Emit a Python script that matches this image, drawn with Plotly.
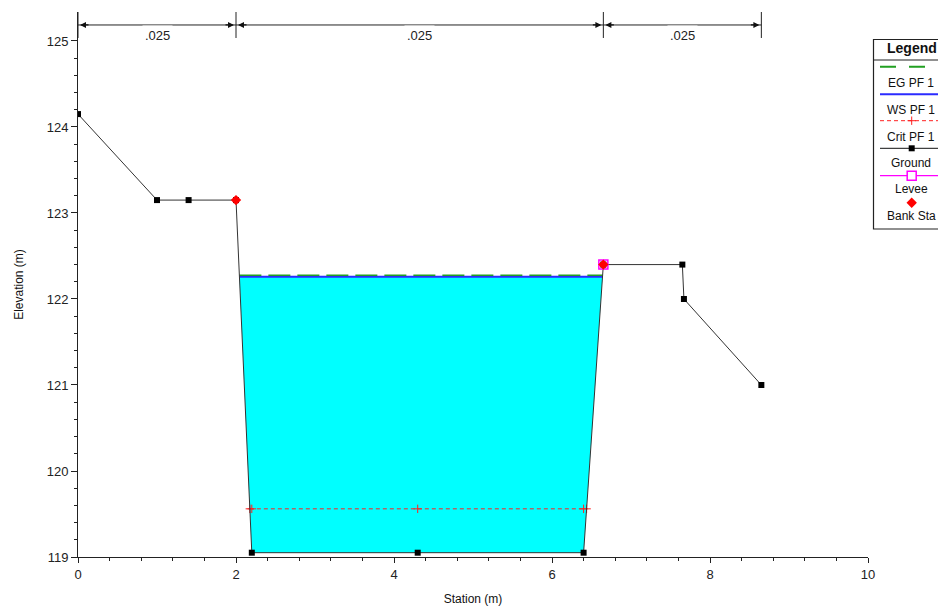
import numpy as np
import plotly.graph_objects as go

# ---------------- data ----------------
ground_sta = [0.0, 1.0, 1.4, 2.0, 2.2, 4.3, 6.4, 6.65, 7.65, 7.67, 8.65]
ground_elev = [124.15, 123.15, 123.15, 123.15, 119.05, 119.05, 119.05, 122.4, 122.4, 122.0, 121.0]
bank_sta = [2.0, 6.65]
levee_sta = [6.65]
ws_elev = 122.26
eg_elev = 122.275
crit_elev = 119.56
n_breaks = [0.0, 2.0, 6.65, 8.65]
n_values = [".025", ".025", ".025"]

FONT = "Liberation Sans, Arial, sans-serif"

gx = np.array(ground_sta)
gy = np.array(ground_elev)
ib_l = int(np.where(gx == bank_sta[0])[0][0])
ib_r = int(np.where(gx == bank_sta[1])[0][0])


def channel_hits(elev):
    """Stations where a horizontal level meets the ground inside the banks."""
    xl = np.interp(elev, gy[ib_l:ib_l + 2][::-1], gx[ib_l:ib_l + 2][::-1])
    xr = np.interp(elev, gy[ib_r - 1:ib_r + 1], gx[ib_r - 1:ib_r + 1])
    inner = [(x, y) for x, y in zip(gx, gy) if xl < x < xr and y < elev]
    return xl, xr, inner


def elev_at(sta):
    return float(np.interp(sta, gx, gy))


fig = go.Figure()

# water fill
xl, xr, inner = channel_hits(ws_elev)
px = [xl] + [p[0] for p in inner] + [xr]
py = [ws_elev] + [p[1] for p in inner] + [ws_elev]
fig.add_trace(go.Scatter(x=px, y=py, fill="toself", fillcolor="#00FFFF",
                         mode="lines", line=dict(width=0), hoverinfo="skip"))

# WS
fig.add_trace(go.Scatter(x=[xl, xr], y=[ws_elev, ws_elev], mode="lines",
                         line=dict(color="#2b2bff", width=2)))
# EG
exl, exr, _ = channel_hits(eg_elev)
fig.add_trace(go.Scatter(x=[exl, exr], y=[eg_elev, eg_elev], mode="lines",
                         line=dict(color="#22a022", width=1.5, dash="22px,7px")))
# Crit
cxl, cxr, cin = channel_hits(crit_elev)
cx = [cxl] + [p[0] for p in cin] + [cxr]
fig.add_trace(go.Scatter(x=cx, y=[crit_elev] * len(cx), mode="lines+markers",
                         line=dict(color="#ff2020", width=1, dash="4px,3px"),
                         marker=dict(symbol="cross-thin", size=6,
                                     line=dict(color="#ff2020", width=1))))
# Ground
fig.add_trace(go.Scatter(x=ground_sta, y=ground_elev, mode="lines+markers",
                         line=dict(color="#333333", width=1),
                         marker=dict(symbol="square", size=6, color="black")))
# Levee
fig.add_trace(go.Scatter(x=levee_sta, y=[elev_at(s) for s in levee_sta], mode="markers",
                         marker=dict(symbol="square-open", size=9, color="#ff00ff",
                                     line=dict(color="#ff00ff", width=1.5))))
# Bank stations
fig.add_trace(go.Scatter(x=bank_sta, y=[elev_at(s) for s in bank_sta], mode="markers",
                         marker=dict(symbol="diamond", size=8, color="#ff0000")))

# Manning's n markers at top
shapes = []
annotations = []
Y_LO, Y_HI, Y_ARR = 0.9523, 1.0, 0.9762
for s in n_breaks:
    shapes.append(dict(type="line", xref="x", yref="paper", x0=s, x1=s, y0=Y_LO, y1=Y_HI,
                       line=dict(color="#222222", width=1)))
for a, b, t in zip(n_breaks[:-1], n_breaks[1:], n_values):
    shapes.append(dict(type="line", xref="x", yref="paper", x0=a, x1=b, y0=Y_ARR, y1=Y_ARR,
                       line=dict(color="#222222", width=1)))
    annotations.append(dict(x=a, y=Y_ARR, xref="x", yref="paper", ax=12, ay=0, text="",
                            showarrow=True, arrowhead=2, arrowsize=1, arrowwidth=1.2,
                            arrowcolor="#111111", standoff=2))
    annotations.append(dict(x=b, y=Y_ARR, xref="x", yref="paper", ax=-12, ay=0, text="",
                            showarrow=True, arrowhead=2, arrowsize=1, arrowwidth=1.2,
                            arrowcolor="#111111", standoff=2))
    annotations.append(dict(x=(a + b) / 2, y=Y_ARR, xref="x", yref="paper", text=t,
                            showarrow=False, bgcolor="white", borderpad=2,
                            font=dict(family=FONT, size=13, color="#222222")))

# ---------------- custom legend (pixel-space helper axes) ----------------
LX0, LX1 = 880, 945
legend_rows = [
    ("EG PF 1", 66.7, 82.5),
    ("WS PF 1", 94.3, 110),
    ("Crit PF 1", 120.7, 136.7),
    ("Ground", 148.3, 162.7),
    ("Levee", 175.7, 189.3),
    ("Bank Sta", 202.7, 216),
]
MX = 911.7
fig.add_trace(go.Scatter(x=[LX0, LX1], y=[66.7, 66.7], xaxis="x2", yaxis="y2", mode="lines",
                         line=dict(color="#22a022", width=2, dash="16px,13px")))
fig.add_trace(go.Scatter(x=[LX0, LX1], y=[94.3, 94.3], xaxis="x2", yaxis="y2", mode="lines",
                         line=dict(color="#2b2bff", width=2)))
fig.add_trace(go.Scatter(x=[LX0, LX1], y=[120.7, 120.7], xaxis="x2", yaxis="y2", mode="lines",
                         line=dict(color="#ff2020", width=1, dash="4px,3px")))
fig.add_trace(go.Scatter(x=[MX], y=[120.7], xaxis="x2", yaxis="y2", mode="markers",
                         marker=dict(symbol="cross-thin", size=6, line=dict(color="#ff2020", width=1))))
fig.add_trace(go.Scatter(x=[LX0, LX1], y=[148.3, 148.3], xaxis="x2", yaxis="y2", mode="lines",
                         line=dict(color="#111111", width=1)))
fig.add_trace(go.Scatter(x=[MX], y=[148.3], xaxis="x2", yaxis="y2", mode="markers",
                         marker=dict(symbol="square", size=6, color="black")))
fig.add_trace(go.Scatter(x=[LX0, LX1], y=[175.7, 175.7], xaxis="x2", yaxis="y2", mode="lines",
                         line=dict(color="#ff00ff", width=1.2)))
fig.add_trace(go.Scatter(x=[MX], y=[175.7], xaxis="x2", yaxis="y2", mode="markers",
                         marker=dict(symbol="square", size=9, color="white",
                                     line=dict(color="#ff00ff", width=1.5))))
fig.add_trace(go.Scatter(x=[MX], y=[202.7], xaxis="x2", yaxis="y2", mode="markers",
                         marker=dict(symbol="diamond", size=8, color="#ff0000")))

shapes.append(dict(type="rect", xref="x2", yref="y2", x0=873.5, x1=950, y0=39.5, y1=229,
                   line=dict(color="#222222", width=1.2), fillcolor="rgba(0,0,0,0)"))
shapes.append(dict(type="line", xref="x2", yref="y2", x0=873.5, x1=950, y0=60, y1=60,
                   line=dict(color="#222222", width=1.2)))
annotations.append(dict(x=885, y=47.5, xref="x2", yref="y2", text="<b>Legend</b>",
                        xanchor="left", showarrow=False,
                        font=dict(family=FONT, size=14, color="#111111")))
for name, _, ty in legend_rows:
    annotations.append(dict(x=911, y=ty, xref="x2", yref="y2", text=name, xanchor="center",
                            showarrow=False, font=dict(family=FONT, size=12, color="#111111")))

fig.update_traces(showlegend=False, hoverinfo="skip")

minor_y = [v for v in np.round(np.arange(119, 125.001, 0.2), 1)]
fig.update_layout(
    width=938, height=606, autosize=False,
    margin=dict(l=78, r=0, t=12, b=49, pad=0, autoexpand=False),
    paper_bgcolor="white", plot_bgcolor="white",
    showlegend=False,
    font=dict(family=FONT, size=12, color="#111111"),
    xaxis=dict(domain=[0, 790 / 860], range=[0, 10], dtick=2, tick0=0,
               showline=True, linecolor="#222222", linewidth=1, showgrid=False, zeroline=False,
               ticks="outside", ticklen=5, tickcolor="#222222",
               minor=dict(ticks="outside", ticklen=3, dtick=0.4, tick0=0, tickcolor="#222222"),
               tickfont=dict(family=FONT, size=13, color="#222222"),
               title=dict(text="Station (m)", standoff=15,
                          font=dict(family=FONT, size=12, color="#111111"))),
    yaxis=dict(range=[119, 125.337], dtick=1, tick0=119,
               showline=True, linecolor="#222222", linewidth=1, showgrid=False, zeroline=False,
               ticks="outside", ticklen=6, tickcolor="#222222",
               minor=dict(ticks="outside", ticklen=3, tickvals=minor_y, tickcolor="#222222"),
               tickfont=dict(family=FONT, size=13, color="#222222"),
               title=dict(text="Elevation (m)", standoff=20,
                          font=dict(family=FONT, size=12, color="#111111"))),
    xaxis2=dict(domain=[790 / 860, 1], range=[868, 938], visible=False, anchor="y2",
                fixedrange=True),
    yaxis2=dict(domain=[0, 1], range=[557, 12], visible=False, anchor="x2", fixedrange=True),
    shapes=shapes,
    annotations=annotations,
)

fig.write_html("out.html",
               config={"responsive": False, "displayModeBar": False, "staticPlot": True},
               post_script="document.body.style.margin='0';document.body.style.overflow='hidden';")
